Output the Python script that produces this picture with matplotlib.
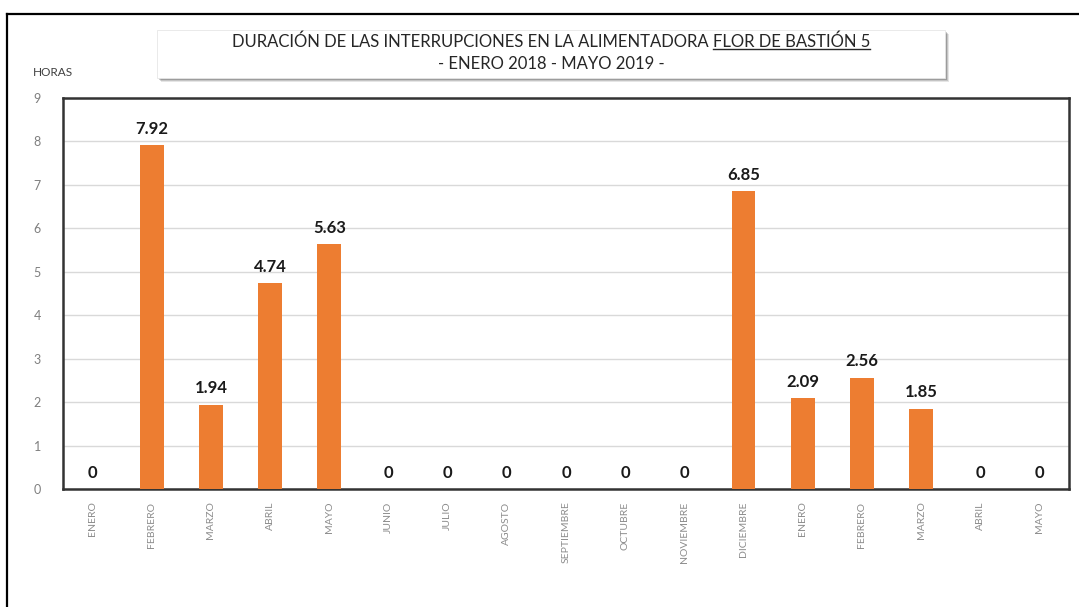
import matplotlib
matplotlib.use("Agg")
import matplotlib.pyplot as plt
from matplotlib.patches import Rectangle
from matplotlib.lines import Line2D

plt.rcParams['font.family'] = ['Lato', 'DejaVu Sans']

# Monthly outage duration (hours), January 2018 - May 2019
months = ["ENERO", "FEBRERO", "MARZO", "ABRIL", "MAYO", "JUNIO", "JULIO",
          "AGOSTO", "SEPTIEMBRE", "OCTUBRE", "NOVIEMBRE", "DICIEMBRE",
          "ENERO", "FEBRERO", "MARZO", "ABRIL", "MAYO"]
hours = [0, 7.92, 1.94, 4.74, 5.63, 0, 0, 0, 0, 0, 0, 6.85, 2.09, 2.56, 1.85, 0, 0]
value_labels = ["0", "7.92", "1.94", "4.74", "5.63", "0", "0", "0", "0", "0", "0",
                "6.85", "2.09", "2.56", "1.85", "0", "0"]
y_ticks = [0, 1, 2, 3, 4, 5, 6, 7, 8, 9]

title_main = "DURACIÓN DE LAS INTERRUPCIONES EN LA ALIMENTADORA "
title_feeder = "FLOR DE BASTIÓN 5"
title_period = "- ENERO 2018 - MAYO 2019 -"

W, H = 1079, 607
fig = plt.figure(figsize=(W / 100, H / 100), dpi=100)
fig.patch.set_facecolor("white")

ax = fig.add_axes([63 / W, 1 - 489 / H, (1069 - 63) / W, (489 - 98) / H])
x = list(range(len(months)))
ax.bar(x, hours, width=0.4, color="#ED7D31", zorder=3)
ax.set_xlim(-0.5, len(months) - 0.5)
ax.set_ylim(0, 9)
ax.set_yticks(y_ticks)
ax.set_yticklabels([str(t) for t in y_ticks], color="#7f7f7f", fontsize=9)
ax.set_xticks(x)
ax.set_xticklabels(months, rotation=90, va="top", ha="center",
                   color="#8c8c8c", fontsize=7.5)
ax.tick_params(axis="both", length=0)
ax.tick_params(axis="y", pad=16)
ax.tick_params(axis="x", pad=9)
ax.grid(axis="y", color="#d9d9d9", linewidth=1, zorder=0)
for s in ax.spines.values():
    s.set_color("#333333")
    s.set_linewidth(1.8)

for xi, v, lab in zip(x, hours, value_labels):
    ax.annotate(lab, (xi, v), xytext=(0, 6), textcoords="offset points",
                ha="center", va="bottom", fontsize=12, fontweight="bold",
                color="#1a1a1a")

fig.text(33 / W, 1 - 72 / H, "HORAS", fontsize=8.5, color="#404040",
         ha="left", va="center")

# outer frame (top and left edges)
fig.add_artist(Line2D([7 / W, 1.0], [1 - 14 / H, 1 - 14 / H], color="black",
                      linewidth=1.6, transform=fig.transFigure))
fig.add_artist(Line2D([7 / W, 7 / W], [1 - 14 / H, 0], color="black",
                      linewidth=1.6, transform=fig.transFigure))

# title box with soft shadow
bx0, by0, bx1, by1 = 157, 30, 945, 78
for i, a in enumerate([0.10, 0.14, 0.20]):
    off = 4 - i
    fig.add_artist(Rectangle(((bx0 + off) / W, 1 - (by1 + off) / H),
                             (bx1 - bx0) / W, (by1 - by0) / H,
                             transform=fig.transFigure, facecolor="#000000",
                             alpha=a, edgecolor="none", zorder=1))
fig.add_artist(Rectangle((bx0 / W, 1 - by1 / H), (bx1 - bx0) / W, (by1 - by0) / H,
                         transform=fig.transFigure, facecolor="white",
                         edgecolor="#e6e6e6", linewidth=0.6, zorder=2))

cx = (bx0 + bx1) / 2 / W
tfs = 12
t1 = fig.text(0, 1 - 42 / H, title_main, fontsize=tfs, color="#262626",
              ha="left", va="center", zorder=3)
t2 = fig.text(0, 1 - 42 / H, title_feeder, fontsize=tfs, color="#262626",
              ha="left", va="center", zorder=3)
fig.text(cx, 1 - 64 / H, title_period, fontsize=tfs, color="#262626",
         ha="center", va="center", zorder=3)

fig.canvas.draw()
r = fig.canvas.get_renderer()
w1 = t1.get_window_extent(r).width
w2 = t2.get_window_extent(r).width
total = (w1 + w2) / W
start = cx - total / 2
t1.set_x(start)
t2.set_x(start + w1 / W)
fig.canvas.draw()
e2 = t2.get_window_extent(r)
uy = (e2.y0 + 1) / H
fig.add_artist(Line2D([e2.x0 / W, e2.x1 / W], [uy, uy], color="#262626",
                      linewidth=1.0, transform=fig.transFigure, zorder=3))

fig.savefig("out.png", dpi=100, facecolor="white")
